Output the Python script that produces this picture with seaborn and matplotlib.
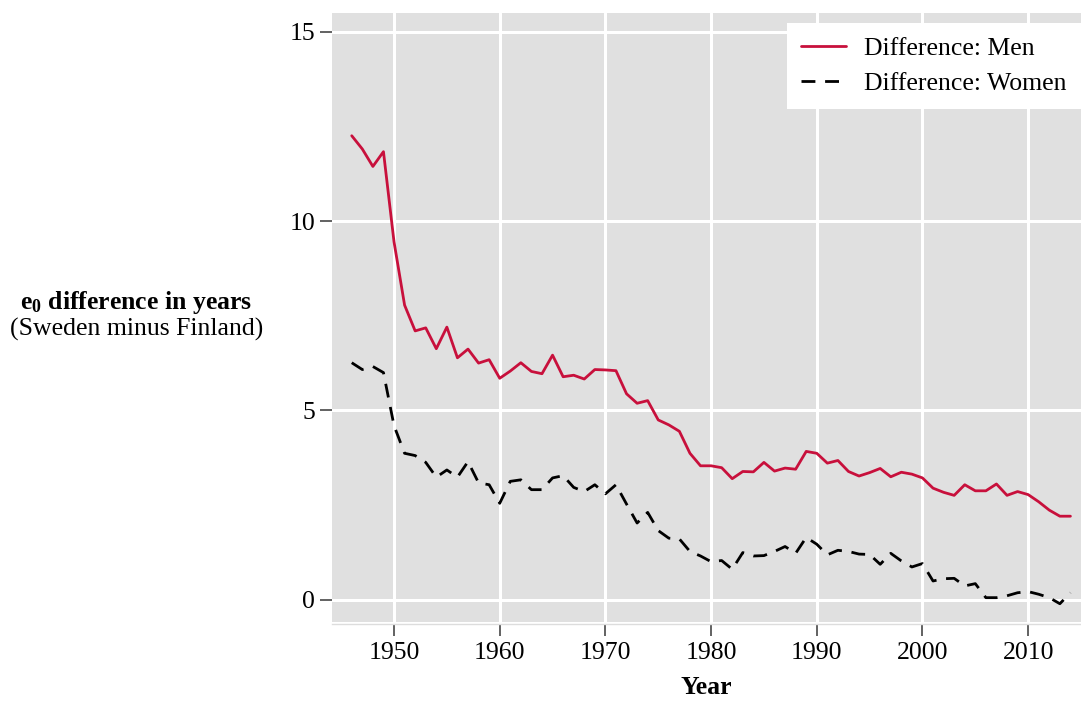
import numpy as np
import pandas as pd
import matplotlib
matplotlib.use("Agg")
import matplotlib.pyplot as plt
import seaborn as sns

# DATA
# ====================================
years = list(range(1946, 2015))

men = [12.25, 11.90, 11.44, 11.83, 9.45, 7.78, 7.10, 7.18, 6.63, 7.20,
       6.39, 6.62, 6.25, 6.34, 5.85, 6.04, 6.26, 6.03, 5.97, 6.46,
       5.89, 5.93, 5.83, 6.08, 6.07, 6.05, 5.44, 5.19, 5.26, 4.75,
       4.62, 4.45, 3.87, 3.54, 3.54, 3.49, 3.20, 3.39, 3.38, 3.63,
       3.40, 3.48, 3.45, 3.92, 3.87, 3.61, 3.68, 3.39, 3.27, 3.36,
       3.47, 3.25, 3.37, 3.32, 3.22, 2.95, 2.84, 2.76, 3.04, 2.88,
       2.88, 3.06, 2.76, 2.86, 2.78, 2.59, 2.37, 2.21, 2.21]

women = [6.26, 6.08, 6.16, 6.00, 4.60, 3.87, 3.81, 3.63, 3.24, 3.43,
         3.24, 3.65, 3.09, 3.04, 2.55, 3.13, 3.17, 2.91, 2.91, 3.22,
         3.28, 2.97, 2.86, 3.04, 2.80, 3.04, 2.53, 2.03, 2.31, 1.83,
         1.63, 1.61, 1.28, 1.16, 1.01, 1.04, 0.81, 1.25, 1.16, 1.17,
         1.28, 1.41, 1.23, 1.65, 1.47, 1.19, 1.31, 1.28, 1.21, 1.20,
         0.94, 1.23, 1.03, 0.87, 0.96, 0.50, 0.56, 0.57, 0.37, 0.43,
         0.06, 0.06, 0.11, 0.19, 0.22, 0.15, 0.06, -0.10, 0.19]

x_ticks = [1950, 1960, 1970, 1980, 1990, 2000, 2010]
y_ticks = [0, 5, 10, 15]

df = pd.DataFrame({"year": years, "men": men, "women": women})

# STYLE
# ====================================
sns.set_style("darkgrid", {"axes.facecolor": "#e0e0e0", "grid.color": "white"})
plt.rcParams["font.family"] = ["Liberation Serif", "DejaVu Serif"]
plt.rcParams["mathtext.fontset"] = "custom"
plt.rcParams["mathtext.rm"] = "Liberation Serif"
plt.rcParams["mathtext.bf"] = "Liberation Serif:bold"
plt.rcParams["text.color"] = "black"

fs = 18.5

fig = plt.figure(figsize=(10.81, 7.03), dpi=100)
ax = fig.add_axes([0.3074, 0.1148, 0.6926, 0.8662])

sns.lineplot(data=df, x="year", y="men", ax=ax, color="#C8103C",
             linewidth=2.0, label="Difference: Men")
sns.lineplot(data=df, x="year", y="women", ax=ax, color="black",
             linewidth=2.0, linestyle=(0, (5.0, 3.5)), label="Difference: Women")

ax.set_xlim(1944.16, 2015.0)
ax.set_ylim(-0.59, 15.48)
ax.set_xticks(x_ticks)
ax.set_yticks(y_ticks)
ax.grid(True, color="white", linewidth=2.2)
ax.set_axisbelow(True)

for s in ["top", "right", "left"]:
    ax.spines[s].set_visible(False)
ax.spines["bottom"].set_visible(True)
ax.spines["bottom"].set_color("#dddddd")
ax.spines["bottom"].set_linewidth(1.0)
ax.spines["bottom"].set_position(("outward", 1.5))

ax.tick_params(axis="both", which="major", length=8.5, width=1.3,
               color="#555555", labelsize=fs, labelcolor="black",
               direction="out", bottom=True, left=True)
ax.tick_params(axis="x", pad=4)
ax.tick_params(axis="y", pad=4)

ax.set_xlabel("Year", fontsize=fs, fontweight="bold", labelpad=9,
              color="black")
ax.set_ylabel("")

fig.text(0.126, 0.569, r"$\mathbf{e_0}$ difference in years", fontsize=fs,
         fontweight="bold", ha="center", va="center")
fig.text(0.126, 0.532, "(Sweden minus Finland)", fontsize=fs,
         ha="center", va="center")

leg = ax.legend(loc="upper right", bbox_to_anchor=(1.0, 0.9836),
                borderaxespad=0, fontsize=fs, frameon=True, fancybox=False,
                facecolor="white", edgecolor="white", framealpha=1,
                handlelength=1.75, handletextpad=0.7, borderpad=0.55,
                labelspacing=0.45)
leg.get_frame().set_linewidth(0)

fig.savefig("out.png", dpi=100)
